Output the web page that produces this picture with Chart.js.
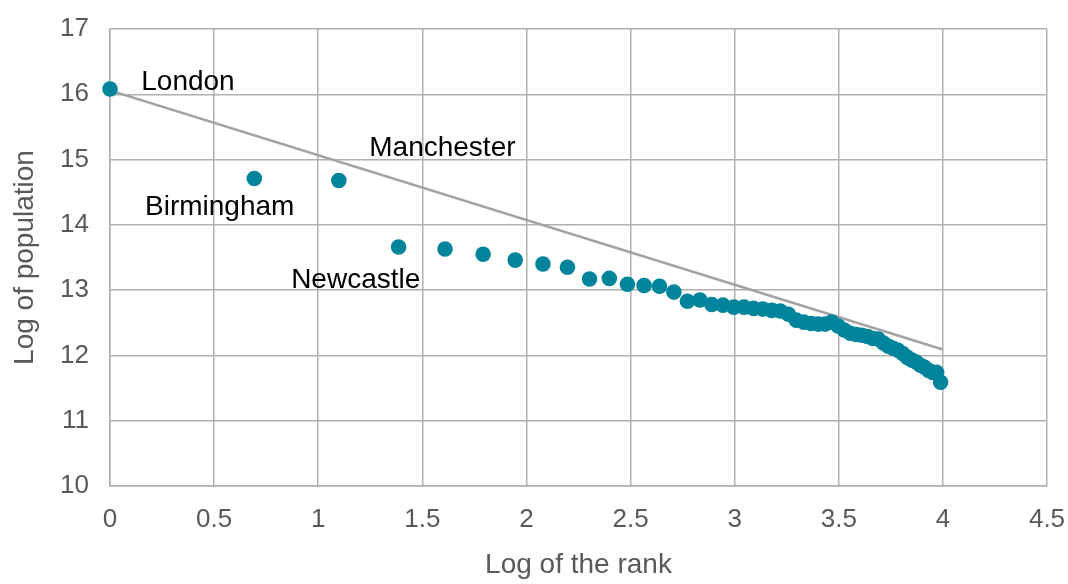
<!DOCTYPE html>
<html>
<head>
<meta charset="utf-8">
<script src="https://cdn.jsdelivr.net/npm/chart.js@4/dist/chart.umd.min.js"></script>
<style>
  html, body { margin: 0; padding: 0; background: #ffffff; }
  #wrap { width: 1068px; height: 584px; position: relative; }
</style>
</head>
<body>
<div id="wrap"><canvas id="chart"></canvas></div>
<script>
// Log of the rank (ranks 1..54) for each city
const logRank = [
  0.000, 0.693, 1.099, 1.386, 1.609, 1.792, 1.946, 2.079, 2.197, 2.303,
  2.398, 2.485, 2.565, 2.639, 2.708, 2.773, 2.833, 2.890, 2.944, 2.996,
  3.045, 3.091, 3.135, 3.178, 3.219, 3.258, 3.296, 3.332, 3.367, 3.401,
  3.434, 3.466, 3.497, 3.526, 3.555, 3.584, 3.611, 3.638, 3.664, 3.689,
  3.714, 3.738, 3.761, 3.784, 3.807, 3.829, 3.850, 3.871, 3.892, 3.912,
  3.932, 3.951, 3.970, 3.989
];

// Log of the population for each city, in rank order
const logPopulation = [
  16.08, 14.71, 14.68, 13.66, 13.63, 13.55, 13.46, 13.40, 13.35, 13.17,
  13.18, 13.09, 13.07, 13.06, 12.97, 12.83, 12.85, 12.78, 12.77, 12.74,
  12.74, 12.72, 12.71, 12.69, 12.68, 12.63, 12.54, 12.51, 12.49, 12.48,
  12.48, 12.51, 12.45, 12.39, 12.34, 12.32, 12.31, 12.29, 12.26, 12.25,
  12.19, 12.14, 12.11, 12.08, 12.03, 11.97, 11.93, 11.90, 11.85, 11.82,
  11.77, 11.74, 11.74, 11.59
];

// Fitted line through the points
const fitX = [0, 4];
const fitY = [16.06, 12.09];

// Axis ranges and tick steps
const xTicks = { min: 0, max: 4.5, step: 0.5 };
const yTicks = { min: 10, max: 17, step: 1 };

// City names written next to the first points
const cityNames = ['London', 'Manchester', 'Birmingham', 'Newcastle'];
const cityLabelAnchors = [
  { x: 0.15, y: 16.19 },
  { x: 1.245, y: 15.17 },
  { x: 0.168, y: 14.27 },
  { x: 0.87, y: 13.15 }
];

const FONT = '"Liberation Sans", Arial, Helvetica, sans-serif';
const TEAL = '#00849c';
const GRID = '#b0b0b0';

const scatterPoints = logRank.map((x, i) => ({ x, y: logPopulation[i] }));
const fitPoints = fitX.map((x, i) => ({ x, y: fitY[i] }));

const cityLabels = {
  id: 'cityLabels',
  afterDatasetsDraw(chart) {
    const { ctx, scales } = chart;
    ctx.save();
    ctx.font = '28px ' + FONT;
    ctx.fillStyle = '#000000';
    ctx.textAlign = 'left';
    ctx.textBaseline = 'middle';
    cityNames.forEach((name, i) => {
      const a = cityLabelAnchors[i];
      ctx.fillText(name, scales.x.getPixelForValue(a.x), scales.y.getPixelForValue(a.y));
    });
    ctx.restore();
  }
};

// Keep tick labels from pushing the plot area inwards; the outer layout padding decides it
function clearScalePadding(scale) {
  scale.paddingTop = 0;
  scale.paddingBottom = 0;
  scale.paddingLeft = 0;
  scale.paddingRight = 0;
}

new Chart(document.getElementById('chart'), {
  type: 'scatter',
  data: {
    datasets: [
      {
        label: 'Cities',
        data: scatterPoints,
        backgroundColor: TEAL,
        borderColor: TEAL,
        pointRadius: 7.8,
        pointBorderWidth: 0,
        clip: false,
        order: 1
      },
      {
        type: 'line',
        label: 'Fit',
        data: fitPoints,
        borderColor: '#a3a3a3',
        borderWidth: 2.5,
        pointRadius: 0,
        fill: false,
        order: 2
      }
    ]
  },
  options: {
    responsive: true,
    maintainAspectRatio: false,
    animation: false,
    events: [],
    layout: { padding: { top: 29, right: 21, left: 0, bottom: 0 } },
    plugins: {
      legend: { display: false },
      tooltip: { enabled: false }
    },
    scales: {
      x: {
        type: 'linear',
        min: xTicks.min,
        max: xTicks.max,
        afterFit(scale) { scale.height = 98; clearScalePadding(scale); },
        border: { color: GRID, width: 1.5 },
        grid: { color: GRID, lineWidth: 1.5, drawTicks: false },
        ticks: {
          stepSize: xTicks.step,
          color: '#595959',
          font: { family: FONT, size: 26 },
          padding: 18,
          maxRotation: 0,
          callback: (v) => String(Number(Number(v).toFixed(1)))
        },
        title: {
          display: true,
          text: 'Log of the rank',
          color: '#595959',
          font: { family: FONT, size: 28 },
          padding: { top: 0, bottom: 2 }
        }
      },
      y: {
        type: 'linear',
        min: yTicks.min,
        max: yTicks.max,
        afterFit(scale) { scale.width = 110; clearScalePadding(scale); },
        border: { color: GRID, width: 1.5 },
        grid: { color: GRID, lineWidth: 1.5, drawTicks: false },
        ticks: {
          stepSize: yTicks.step,
          color: '#595959',
          font: { family: FONT, size: 26 },
          padding: 21
        },
        title: {
          display: true,
          text: 'Log of population',
          color: '#595959',
          font: { family: FONT, size: 28 },
          padding: { top: 8, bottom: 0 }
        }
      }
    }
  },
  plugins: [cityLabels]
});
</script>
</body>
</html>
